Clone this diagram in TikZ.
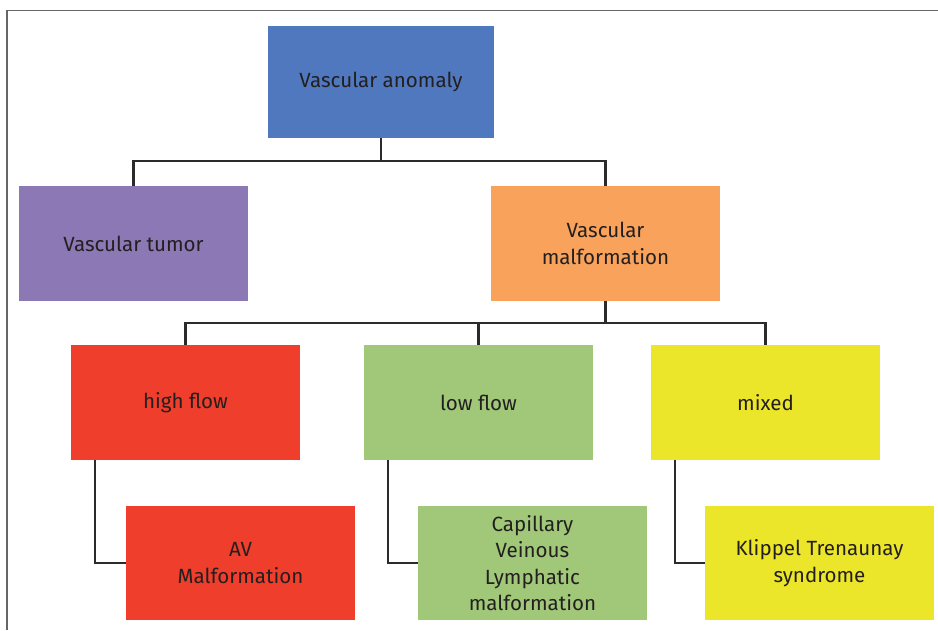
\documentclass[tikz,border=0pt]{standalone}
\usepackage{fontspec}
\setmainfont{Fira Sans}
\usetikzlibrary{calc}
\definecolor{anomblue}{HTML}{5078BE}
\definecolor{tumorpurple}{HTML}{8B78B5}
\definecolor{malforange}{HTML}{F9A25B}
\definecolor{flowred}{HTML}{EF3E2B}
\definecolor{flowgreen}{HTML}{A0C878}
\definecolor{mixyellow}{HTML}{ECE62B}
\definecolor{textgray}{HTML}{231F20}
\definecolor{linegray}{HTML}{2B2B2B}
\tikzstyle{box}=[rectangle,inner sep=0pt,align=center,text=textgray,font=\fontsize{11.7}{15}\selectfont,minimum width=4.58cm,minimum height=2.3cm]
\tikzstyle{link}=[draw=linegray,line width=1.2pt]

\begin{document}
\begin{tikzpicture}[x=0.02cm,y=-0.02cm]
\def \drop {23};
\def \elb {24.5};

\useasboundingbox (0,0) rectangle (938,630);
\draw[gray!80!black,line width=0.9pt] (7,630) -- (7,10.5) -- (938,10.5);

\node[box,fill=anomblue,minimum width=4.52cm,minimum height=2.24cm] (anom) at (381,82) {Vascular anomaly};

\node[box,fill=tumorpurple] (tumor) at (133.5,243.5) {Vascular tumor};
\node[box,fill=malforange] (malf) at (605.5,243.5) {Vascular\\malformation};

\node[box,fill=flowred] (high) at (185.5,402.5) {high flow};
\node[box,fill=flowgreen] (low) at (478.5,402.5) {low flow};
\node[box,fill=mixyellow] (mix) at (765.5,402.5) {mixed};

\node[box,fill=flowred] (av) at (240.5,563) {AV\\Malformation};
\node[box,fill=flowgreen] (cvl) at (532.5,563) {Capillary\\Veinous\\Lymphatic\\malformation};
\node[box,fill=mixyellow] (kt) at (819.5,563) {Klippel Trenaunay\\syndrome};

\foreach \n in {tumor,malf} {
	\draw[link] (anom.south) -- ++(0,\drop) -| (\n.north);
};

\foreach \n in {high,low,mix} {
	\draw[link] (malf.south) -- ++(0,22) -| (\n.north);
};

\foreach \p/\c in {high/av,low/cvl,mix/kt} {
	\draw[link] ($(\p.south west)+(\elb,0)$) |- (\c.west);
};

\end{tikzpicture}
\end{document}
